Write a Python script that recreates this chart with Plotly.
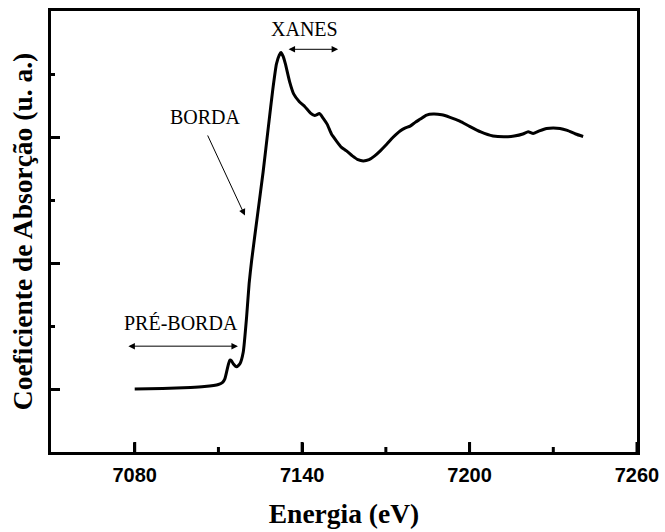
import plotly.graph_objects as go

# Normalised Fe K-edge XAS spectrum (energy in eV, absorption in arbitrary units)
energy = [7080, 7090, 7100, 7105, 7110, 7111.5, 7112.3, 7113.5, 7114.1, 7114.7,
          7115.3, 7116.5, 7117.7, 7118.9, 7120.1, 7121.0, 7121.9, 7124, 7126,
          7128, 7129.5, 7130.8, 7131.8, 7132.4, 7133.2, 7134, 7135.5, 7137,
          7139, 7141, 7143, 7144.5, 7146.2, 7147.5, 7149, 7150.5, 7152.3,
          7154, 7155.9, 7158, 7160, 7161.9, 7164, 7166, 7168, 7170.3, 7172.5,
          7175.1, 7177, 7178.7, 7180.5, 7182.2, 7184.6, 7187, 7190, 7193,
          7196.5, 7200, 7204, 7208.4, 7213.2, 7216, 7219.1, 7221, 7222.8,
          7225, 7227.6, 7230, 7232.4, 7235, 7238, 7240.7]
absorption = [0.000, 0.002, 0.006, 0.010, 0.018, 0.026, 0.040, 0.095, 0.115, 0.112,
              0.100, 0.088, 0.100, 0.147, 0.286, 0.418, 0.510, 0.690, 0.860,
              1.050, 1.190, 1.290, 1.325, 1.335, 1.320, 1.290, 1.220, 1.170,
              1.140, 1.120, 1.095, 1.085, 1.093, 1.075, 1.050, 1.012, 0.984,
              0.960, 0.945, 0.925, 0.910, 0.905, 0.910, 0.925, 0.945, 0.971, 0.998,
              1.024, 1.036, 1.043, 1.058, 1.070, 1.087, 1.091, 1.088, 1.078,
              1.063, 1.042, 1.020, 1.004, 1.001, 1.004, 1.012, 1.021, 1.014,
              1.024, 1.034, 1.036, 1.034, 1.026, 1.012, 1.002]

x_ticks = [7080, 7140, 7200, 7260]
x_minor = [7110, 7170, 7230]
y_ticks = [0, 0.5, 1.0]
x_range = [7050, 7260]
y_range = [-0.25, 1.5]

serif = "Liberation Serif"
sans = "Liberation Sans"

PLOT_H = 532 - 11 - 80  # plot-area height in px
Y_PER_PX = (y_range[1] - y_range[0]) / PLOT_H

fig = go.Figure()
fig.add_trace(go.Scatter(
    x=energy, y=absorption, mode="lines",
    line=dict(color="black", width=3, shape="spline", smoothing=0.5),
    hoverinfo="skip", showlegend=False,
))

# Inward energy tick marks along the bottom frame (major and minor)
for val, length in [(v, 10) for v in x_ticks] + [(v, 5) for v in x_minor]:
    fig.add_shape(type="line", xref="x", yref="y", layer="above",
                  x0=val, x1=val, y0=y_range[0], y1=y_range[0] + length * Y_PER_PX,
                  line=dict(color="black", width=3))

# Region labels
label_font = dict(family=serif, size=20, color="black")
fig.add_annotation(x=7141, y=1.43, text="XANES", showarrow=False, font=label_font)
fig.add_annotation(x=7105.2, y=1.08, text="BORDA", showarrow=False, font=label_font)
fig.add_annotation(x=7096.6, y=0.26, text="PRÉ-BORDA", showarrow=False, font=label_font)

# Range arrows
arrow_style = dict(showarrow=True, text="", arrowcolor="black", arrowwidth=1,
                   arrowhead=2, arrowsize=1.3, axref="x", ayref="y",
                   startarrowhead=2, startarrowsize=1.3)
fig.add_annotation(x=7152.9, y=1.348, ax=7134.6, ay=1.348, arrowside="end+start", **arrow_style)
fig.add_annotation(x=7117.0, y=0.170, ax=7077.2, ay=0.170, arrowside="end+start", **arrow_style)
fig.add_annotation(x=7119.5, y=0.688, ax=7105.9, ay=1.012, arrowside="end", **arrow_style)

axis_title_font = dict(family=serif, size=27.5, color="black", weight="bold")

fig.update_xaxes(
    range=x_range, tickmode="array", tickvals=x_ticks, ticks="inside", ticklen=9, tickwidth=3,
    tickcolor="black", showline=True, linewidth=3, linecolor="black", mirror=True,
    showgrid=False, zeroline=False, automargin=False, ticklabelstandoff=3,
    tickfont=dict(family=sans, size=20, color="black", weight="bold"),
    title=dict(text="Energia (eV)", font=axis_title_font, standoff=19),
)
fig.update_yaxes(
    range=y_range, tickmode="array", tickvals=y_ticks, ticks="inside", ticklen=9, tickwidth=3,
    tickcolor="black", showline=True, linewidth=3, linecolor="black", mirror=True,
    showgrid=False, zeroline=False, showticklabels=False, automargin=False,
    minor=dict(dtick=0.25, tick0=0, ticks="inside", ticklen=4, tickwidth=3,
               tickcolor="black", showgrid=False),
    title=dict(text="Coeficiente de Absorção (u. a.)", font=axis_title_font, standoff=8),
)

fig.update_layout(
    width=665, height=532,
    margin=dict(l=51, r=28, t=11, b=80),
    paper_bgcolor="white", plot_bgcolor="white",
)

fig.write_html("out.html")
